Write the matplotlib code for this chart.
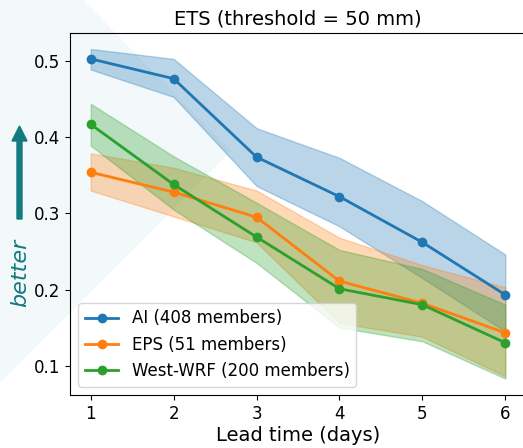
import numpy as np
import matplotlib
matplotlib.use("Agg")
import matplotlib.pyplot as plt
from matplotlib.patches import Polygon, FancyArrow

# lead times (days)
lead_days = [1, 2, 3, 4, 5, 6]

# AI ensemble
ai_mean = [0.503, 0.477, 0.374, 0.322, 0.262, 0.193]
ai_low = [0.489, 0.453, 0.336, 0.283, 0.215, 0.145]
ai_high = [0.516, 0.503, 0.412, 0.373, 0.316, 0.246]

# EPS ensemble
eps_mean = [0.354, 0.328, 0.295, 0.211, 0.182, 0.143]
eps_low = [0.330, 0.296, 0.262, 0.156, 0.138, 0.086]
eps_high = [0.379, 0.360, 0.330, 0.268, 0.232, 0.203]

# West-WRF ensemble
wrf_mean = [0.417, 0.338, 0.269, 0.201, 0.180, 0.130]
wrf_low = [0.389, 0.305, 0.235, 0.150, 0.132, 0.083]
wrf_high = [0.444, 0.375, 0.314, 0.252, 0.227, 0.180]

series = [
    ("AI (408 members)", ai_mean, ai_low, ai_high, "tab:blue"),
    ("EPS (51 members)", eps_mean, eps_low, eps_high, "tab:orange"),
    ("West-WRF (200 members)", wrf_mean, wrf_low, wrf_high, "tab:green"),
]

W, H = 523, 448
fig = plt.figure(figsize=(W / 100, H / 100), dpi=100)

# pale background diamond behind the axes
bg = Polygon([(0 / W, 1 - 0 / H), (83 / W, 1 - 0 / H), (231 / W, 1 - 151 / H), (0 / W, 1 - 383 / H)],
             closed=True, transform=fig.transFigure, facecolor="#f3f8fa", edgecolor="none", zorder=-10)
fig.patches.append(bg)

ax = fig.add_axes([70 / W, 53 / H, 456 / W, 362 / H])
ax.set_zorder(5)
ax.set_facecolor("none")

for label, mean, low, high, color in series:
    ax.fill_between(lead_days, low, high, color=color, alpha=0.3)
    ax.plot(lead_days, mean, marker="o", color=color, lw=2, ms=6, label=label)

ax.set_xlim(0.75, 6.25)
ax.set_ylim(0.0614, 0.537)
ax.set_xticks(lead_days)
ax.set_yticks([0.1, 0.2, 0.3, 0.4, 0.5])
ax.tick_params(labelsize=12)
ax.set_title("ETS (threshold = 50 mm)", fontsize=14)
ax.set_xlabel("Lead time (days)", fontsize=14, labelpad=2)
ax.legend(loc="lower left", fontsize=12)

# "better" arrow on the left
teal = "#137a7f"
arrow = FancyArrow(19.5 / W, 1 - 219 / H, 0, (219 - 126) / H, width=5 / W, head_width=15 / W,
                   head_length=15 / H, length_includes_head=True, transform=fig.transFigure,
                   color=teal, zorder=6)
fig.patches.append(arrow)
fig.text(20 / W, 1 - 273 / H, "better", rotation=90, color=teal, fontsize=16,
         style="italic", ha="center", va="center")

fig.savefig("out.png", dpi=100)
